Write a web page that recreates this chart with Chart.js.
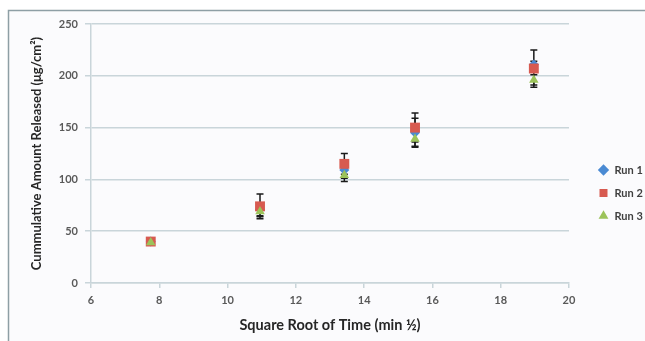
<!DOCTYPE html>
<html>
<head>
<meta charset="utf-8">
<script src="https://cdn.jsdelivr.net/npm/chart.js@4/dist/chart.umd.min.js"></script>
<style>
  html, body { margin: 0; padding: 0; background: #ffffff; }
  #wrap { width: 645px; height: 341px; position: relative; }
</style>
</head>
<body>
<div id="wrap"><canvas id="releaseChart"></canvas></div>
<script>
// square root of time (min^1/2)
const sqrtTime = [7.75, 10.95, 13.42, 15.49, 18.97];

// cumulative amount released (ug/cm2) and error bar sizes
const run1 = [40, 71, 109, 145, 211];
const run1Err = [1, 6, 8, 14, 3];
const run2 = [40, 74, 115, 150, 207];
const run2Err = [1, 12, 10, 14, 18];
const run3 = [39, 69, 104, 139, 196];
const run3Err = [1, 5, 6, 7, 5];

const runNames = ["Run 1", "Run 2", "Run 3"];
const xTicks = [6, 8, 10, 12, 14, 16, 18, 20];
const yTicks = [0, 50, 100, 150, 200, 250];

const gridColor = "#c9d5da";
const tickColor = "#595959";

function toPoints(vals) {
  return sqrtTime.map((x, i) => ({ x: x, y: vals[i] }));
}

// background + the cropped outer frame
const framePlugin = {
  id: "frame",
  beforeDraw(chart) {
    const ctx = chart.ctx;
    ctx.save();
    ctx.fillStyle = "#ffffff";
    ctx.fillRect(0, 0, chart.width, chart.height);
    ctx.fillStyle = "#fbfbfd";
    ctx.fillRect(9, 11, chart.width - 9, chart.height - 11);
    ctx.strokeStyle = "#8e9fa5";
    ctx.lineWidth = 1.5;
    ctx.beginPath();
    ctx.moveTo(8.5, chart.height);
    ctx.lineTo(8.5, 10.5);
    ctx.lineTo(chart.width, 10.5);
    ctx.stroke();
    ctx.restore();
  }
};

// vertical error bars with caps, behind the markers
const errorBars = {
  id: "errorBars",
  beforeDatasetsDraw(chart) {
    const errs = [run1Err, run2Err, run3Err];
    const ctx = chart.ctx;
    const xs = chart.scales.x, ys = chart.scales.y;
    ctx.save();
    ctx.strokeStyle = "#1a1a1a";
    ctx.lineWidth = 1.5;
    chart.data.datasets.forEach((ds, d) => {
      ds.data.forEach((p, i) => {
        const px = xs.getPixelForValue(p.x);
        const top = ys.getPixelForValue(p.y + errs[d][i]);
        const bot = ys.getPixelForValue(p.y - errs[d][i]);
        ctx.beginPath();
        ctx.moveTo(px, top); ctx.lineTo(px, bot);
        ctx.moveTo(px - 3.5, top); ctx.lineTo(px + 3.5, top);
        ctx.moveTo(px - 3.5, bot); ctx.lineTo(px + 3.5, bot);
        ctx.stroke();
      });
    });
    ctx.restore();
  }
};

// fixed legend width, then nudge it into place
const legendPlace = {
  id: "legendPlace",
  beforeInit(chart) {
    const fit = chart.legend.fit;
    chart.legend.fit = function () { fit.call(this); this.width = 76; };
  },
  afterLayout(chart) {
    chart.legend.left += 17;
    chart.legend.top += 21;
  }
};

new Chart(document.getElementById("releaseChart"), {
  type: "scatter",
  data: {
    datasets: [
      { label: runNames[0], data: toPoints(run1), order: 3, pointStyle: "rectRot",
        pointRadius: 5, backgroundColor: "#4a8ad3", borderColor: "#4a8ad3", borderWidth: 0 },
      { label: runNames[1], data: toPoints(run2), order: 2, pointStyle: "rect",
        pointRadius: 7, backgroundColor: "#d75a50", borderColor: "#d75a50", borderWidth: 0 },
      { label: runNames[2], data: toPoints(run3), order: 1, pointStyle: "triangle",
        pointRadius: 5.5, backgroundColor: "#9cc35a", borderColor: "#9cc35a", borderWidth: 0 }
    ]
  },
  options: {
    responsive: true,
    maintainAspectRatio: false,
    animation: false,
    layout: { padding: { left: 0, right: 0, top: 24, bottom: 0 } },
    plugins: {
      tooltip: { enabled: false },
      legend: {
        position: "right",
        align: "center",
        labels: {
          usePointStyle: true,
          boxHeight: 8,
          padding: 12,
          color: "#404040",
          font: { family: "Lato", size: 11, weight: "bold" },
          sort: (a, b) => a.datasetIndex - b.datasetIndex
        }
      }
    },
    scales: {
      x: {
        type: "linear",
        min: 6, max: 20,
        afterFit: (s) => { s.height = 58; },
        afterBuildTicks: (s) => { s.ticks = xTicks.map(v => ({ value: v })); },
        grid: { drawOnChartArea: false, color: gridColor, tickLength: 5, lineWidth: 1.5 },
        border: { color: gridColor, width: 1.5 },
        ticks: { color: tickColor, padding: 6, font: { family: "Lato", size: 11, weight: "bold" } },
        title: {
          display: true,
          text: "Square Root of Time (min \u00bd)",
          color: "#262626",
          font: { family: "Lato", size: 14.5, weight: "bold" },
          padding: { top: 0, bottom: 7 }
        }
      },
      y: {
        min: 0, max: 250,
        afterFit: (s) => { s.width = 91; },
        afterBuildTicks: (s) => { s.ticks = yTicks.map(v => ({ value: v })); },
        grid: { color: gridColor, tickLength: 6, lineWidth: 1.5 },
        border: { color: gridColor, width: 1.5 },
        ticks: { color: tickColor, padding: 7, font: { family: "Lato", size: 11, weight: "bold" } },
        title: {
          display: true,
          text: "Cummulative Amount Released (\u03bcg/cm\u00b2)",
          color: "#262626",
          font: { family: "Lato", size: 13, weight: "bold" },
          padding: { top: 29, bottom: 0 }
        }
      }
    }
  },
  plugins: [framePlugin, errorBars, legendPlace]
});
</script>
</body>
</html>
